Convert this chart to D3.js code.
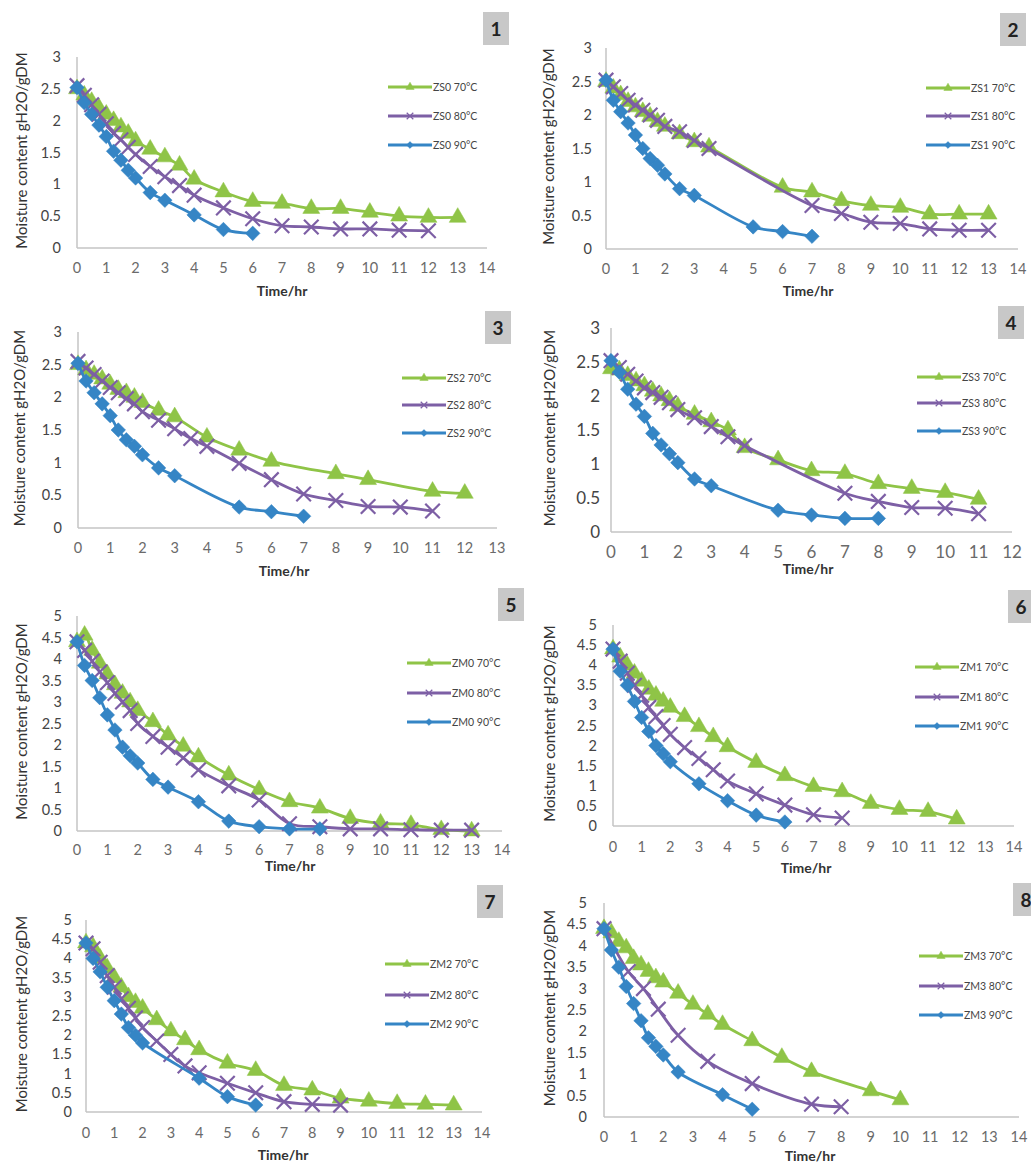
<!DOCTYPE html>
<html>
<head>
<meta charset="utf-8">
<script src="https://cdn.jsdelivr.net/npm/d3@7"></script>
<style>
  body { margin: 0; background: #fff; }
  svg text { font-family: Lato, "Open Sans", sans-serif; }
</style>
</head>
<body>
<div id="chart"></div>
<script>
// ---- data: [time (hr), moisture (gH2O/gDM)] ----
const ZS0_70 = [[0,2.5],[0.25,2.4],[0.5,2.3],[0.75,2.2],[1,2.1],[1.25,2.0],[1.5,1.9],[1.75,1.8],[2,1.68],[2.5,1.55],[3,1.43],[3.5,1.3],[4,1.08],[5,0.88],[6,0.73],[7,0.7],[8,0.62],[9,0.62],[10,0.56],[11,0.5],[12,0.48],[13,0.48]];
const ZS0_80 = [[0,2.55],[0.25,2.4],[0.5,2.25],[0.75,2.1],[1,1.95],[1.25,1.8],[1.5,1.7],[1.75,1.58],[2,1.47],[2.5,1.28],[3,1.12],[3.5,0.98],[4,0.83],[5,0.63],[6,0.46],[7,0.35],[8,0.33],[9,0.3],[10,0.3],[11,0.28],[12,0.27]];
const ZS0_90 = [[0,2.52],[0.25,2.28],[0.5,2.1],[0.75,1.93],[1,1.75],[1.25,1.52],[1.5,1.38],[1.75,1.22],[2,1.1],[2.5,0.87],[3,0.75],[4,0.52],[5,0.29],[6,0.23]];

const ZS1_70 = [[0,2.5],[0.25,2.4],[0.5,2.3],[0.75,2.2],[1,2.12],[1.25,2.05],[1.5,1.98],[1.75,1.9],[2,1.83],[2.5,1.72],[3,1.6],[3.5,1.52],[6,0.92],[7,0.85],[8,0.72],[9,0.65],[10,0.62],[11,0.52],[12,0.52],[13,0.52]];
const ZS1_80 = [[0,2.52],[0.25,2.42],[0.5,2.32],[0.75,2.22],[1,2.15],[1.25,2.07],[1.5,2.0],[1.75,1.92],[2,1.83],[2.5,1.75],[3,1.62],[3.5,1.5],[7,0.65],[8,0.53],[9,0.4],[10,0.38],[11,0.3],[12,0.28],[13,0.28]];
const ZS1_90 = [[0,2.52],[0.25,2.22],[0.5,2.05],[0.75,1.88],[1,1.7],[1.25,1.5],[1.5,1.35],[1.75,1.25],[2,1.12],[2.5,0.9],[3,0.8],[5,0.33],[6,0.26],[7,0.19]];

const ZS2_70 = [[0,2.5],[0.25,2.42],[0.5,2.35],[0.75,2.28],[1,2.2],[1.25,2.12],[1.5,2.07],[1.75,2.0],[2,1.92],[2.5,1.8],[3,1.7],[4,1.39],[5,1.19],[6,1.02],[8,0.83],[9,0.74],[11,0.56],[12,0.53]];
const ZS2_80 = [[0,2.55],[0.25,2.45],[0.5,2.35],[0.75,2.25],[1,2.15],[1.25,2.07],[1.5,1.98],[1.75,1.9],[2,1.78],[2.5,1.65],[3,1.52],[3.5,1.37],[4,1.25],[5,0.99],[6,0.74],[7,0.52],[8,0.42],[9,0.33],[10,0.32],[11,0.26]];
const ZS2_90 = [[0,2.52],[0.25,2.25],[0.5,2.07],[0.75,1.9],[1,1.72],[1.25,1.5],[1.5,1.35],[1.75,1.25],[2,1.12],[2.5,0.92],[3,0.8],[5,0.32],[6,0.25],[7,0.18]];

const ZS3_70 = [[0,2.4],[0.25,2.38],[0.5,2.3],[0.75,2.22],[1,2.15],[1.25,2.07],[1.5,2.0],[1.75,1.93],[2,1.85],[2.5,1.73],[3,1.62],[3.5,1.5],[4,1.24],[5,1.06],[6,0.9],[7,0.86],[8,0.71],[9,0.64],[10,0.58],[11,0.48]];
const ZS3_80 = [[0,2.52],[0.25,2.42],[0.5,2.32],[0.75,2.22],[1,2.12],[1.25,2.05],[1.5,1.98],[1.75,1.9],[2,1.8],[2.5,1.68],[3,1.55],[3.5,1.4],[4,1.27],[7,0.57],[8,0.45],[9,0.36],[10,0.35],[11,0.27]];
const ZS3_90 = [[0,2.52],[0.25,2.35],[0.5,2.1],[0.75,1.88],[1,1.7],[1.25,1.45],[1.5,1.28],[1.75,1.15],[2,1.02],[2.5,0.78],[3,0.68],[5,0.32],[6,0.25],[7,0.2],[8,0.2]];

const ZM0_70 = [[0,4.4],[0.25,4.55],[0.5,4.2],[0.75,3.9],[1,3.65],[1.25,3.4],[1.5,3.2],[1.75,3.0],[2,2.8],[2.5,2.54],[3,2.23],[3.5,1.97],[4,1.72],[5,1.3],[6,0.96],[7,0.68],[8,0.53],[9,0.29],[10,0.18],[11,0.15],[12,0.03],[13,0.0]];
const ZM0_80 = [[0,4.4],[0.25,4.2],[0.5,3.95],[0.75,3.7],[1,3.45],[1.25,3.2],[1.5,3.0],[1.75,2.8],[2,2.5],[2.5,2.2],[3,1.95],[3.5,1.7],[4,1.42],[5,1.05],[6,0.72],[7,0.17],[8,0.1],[9,0.05],[10,0.05],[11,0.03],[12,0.02],[13,0.02]];
const ZM0_90 = [[0,4.4],[0.25,3.85],[0.5,3.5],[0.75,3.1],[1,2.7],[1.25,2.35],[1.5,1.95],[1.75,1.75],[2,1.58],[2.5,1.2],[3,1.02],[4,0.68],[5,0.23],[6,0.1],[7,0.05],[8,0.05]];

const ZM1_70 = [[0,4.4],[0.25,4.2],[0.5,4.0],[0.75,3.8],[1,3.6],[1.25,3.4],[1.5,3.25],[1.75,3.1],[2,2.95],[2.5,2.72],[3,2.47],[3.5,2.22],[4,1.97],[5,1.58],[6,1.25],[7,0.98],[8,0.85],[9,0.56],[10,0.41],[11,0.36],[12,0.17]];
const ZM1_80 = [[0,4.4],[0.25,4.1],[0.5,3.8],[0.75,3.5],[1,3.25],[1.25,2.95],[1.5,2.72],[1.75,2.5],[2,2.28],[2.5,1.95],[3,1.68],[3.5,1.4],[4,1.12],[5,0.8],[6,0.52],[7,0.28],[8,0.2]];
const ZM1_90 = [[0,4.4],[0.25,3.85],[0.5,3.5],[0.75,3.1],[1,2.7],[1.25,2.35],[1.5,2.0],[1.75,1.8],[2,1.6],[3,1.05],[4,0.63],[5,0.27],[6,0.1]];

const ZM2_70 = [[0,4.4],[0.25,4.3],[0.5,4.0],[0.75,3.75],[1,3.5],[1.25,3.25],[1.5,3.0],[1.75,2.85],[2,2.7],[2.5,2.4],[3,2.11],[3.5,1.88],[4,1.62],[5,1.27],[6,1.08],[7,0.69],[8,0.57],[9,0.36],[10,0.28],[11,0.22],[12,0.2],[13,0.18]];
const ZM2_80 = [[0,4.4],[0.25,4.25],[0.5,3.9],[0.75,3.55],[1,3.25],[1.25,2.95],[1.5,2.7],[1.75,2.45],[2,2.2],[2.5,1.85],[3,1.5],[3.5,1.2],[4,1.02],[5,0.75],[6,0.5],[7,0.27],[8,0.2],[9,0.18]];
const ZM2_90 = [[0,4.4],[0.25,4.0],[0.5,3.65],[0.75,3.25],[1,2.9],[1.25,2.55],[1.5,2.2],[1.75,2.0],[2,1.8],[4,0.88],[5,0.4],[6,0.18]];

const ZM3_70 = [[0,4.4],[0.25,4.3],[0.5,4.1],[0.75,3.95],[1,3.7],[1.25,3.55],[1.5,3.4],[1.75,3.25],[2,3.15],[2.5,2.89],[3,2.63],[3.5,2.4],[4,2.16],[5,1.78],[6,1.39],[7,1.06],[9,0.61],[10,0.4]];
const ZM3_80 = [[0,4.4],[0.82,3.4],[1.33,3.0],[1.83,2.52],[2.5,1.91],[3.5,1.3],[5,0.78],[7,0.3],[8,0.24]];
const ZM3_90 = [[0,4.4],[0.25,3.9],[0.5,3.5],[0.75,3.05],[1,2.65],[1.25,2.25],[1.5,1.85],[1.75,1.65],[2,1.45],[2.5,1.05],[4,0.52],[5,0.18]];

const panelNames = ["ZS0", "ZS1", "ZS2", "ZS3", "ZM0", "ZM1", "ZM2", "ZM3"];
const panelSeries = [
  [ZS0_70, ZS0_80, ZS0_90], [ZS1_70, ZS1_80, ZS1_90],
  [ZS2_70, ZS2_80, ZS2_90], [ZS3_70, ZS3_80, ZS3_90],
  [ZM0_70, ZM0_80, ZM0_90], [ZM1_70, ZM1_80, ZM1_90],
  [ZM2_70, ZM2_80, ZM2_90], [ZM3_70, ZM3_80, ZM3_90]
];
const panelXMax = [14, 14, 13, 12, 14, 14, 14, 14];
const panelYMax = [3, 3, 3, 3, 5, 5, 5, 5];
const temps = ["70°C", "80°C", "90°C"];

// ---- layout (pixels) ----
// x0/x1: pixel of time 0 / xmax; yb/yt: pixel of 0 / ymax
const layout = [
  {x0: 77,  x1: 487,  yb: 248,  yt: 57,  tickY: 268,  yLabR: 61,  titleX: 282, titleY: 291, yTitleX: 22,  lgX: 388, lgY: [87, 116, 145],   badge: [483, 12], fs: 14.5},
  {x0: 606, x1: 1018, yb: 249,  yt: 48,  tickY: 269,  yLabR: 592, titleX: 808, titleY: 291, yTitleX: 549, lgX: 926, lgY: [88, 116, 145],   badge: [1000, 13], fs: 14.5},
  {x0: 78,  x1: 497,  yb: 528,  yt: 332, tickY: 548,  yLabR: 62,  titleX: 284, titleY: 571, yTitleX: 20,  lgX: 402, lgY: [378, 405, 433],  badge: [485, 311], fs: 14.5},
  {x0: 611, x1: 1012, yb: 532,  yt: 328, tickY: 552,  yLabR: 600, titleX: 808, titleY: 569, yTitleX: 550, lgX: 917, lgY: [377, 403, 431],  badge: [998, 306], fs: 17},
  {x0: 77,  x1: 502,  yb: 831,  yt: 616, tickY: 850,  yLabR: 62,  titleX: 290, titleY: 866, yTitleX: 22,  lgX: 407, lgY: [663, 693, 722],  badge: [498, 588], fs: 14.5},
  {x0: 613, x1: 1014, yb: 826,  yt: 625, tickY: 847,  yLabR: 597, titleX: 806, titleY: 868, yTitleX: 550, lgX: 915, lgY: [667, 697, 726],  badge: [1008, 590], fs: 14.5},
  {x0: 86,  x1: 482,  yb: 1112, yt: 920, tickY: 1133, yLabR: 72,  titleX: 283, titleY: 1155, yTitleX: 22, lgX: 385, lgY: [964, 995, 1024], badge: [477, 885], fs: 14.5},
  {x0: 604, x1: 1019, yb: 1117, yt: 903, tickY: 1137, yLabR: 587, titleX: 810, titleY: 1156, yTitleX: 550, lgX: 919, lgY: [956, 986, 1015], badge: [1013, 883], fs: 14.5}
];

const colors = ["#8fc447", "#7d5fa5", "#3585c5"];
const shapes = [d3.symbolTriangle, d3.symbolTimes, d3.symbolDiamond2];
const markerSize = [125, 140, 135];

const svg = d3.select("#chart").append("svg")
  .attr("width", 1031).attr("height", 1166);

function drawPanel(i) {
  const L = layout[i];
  const x = d3.scaleLinear().domain([0, panelXMax[i]]).range([L.x0, L.x1]);
  const y = d3.scaleLinear().domain([0, panelYMax[i]]).range([L.yb, L.yt]);
  const g = svg.append("g").attr("class", "panel");

  // axes lines
  g.append("line").attr("x1", L.x0).attr("x2", L.x1).attr("y1", L.yb).attr("y2", L.yb)
    .attr("stroke", "#c4c4c4").attr("stroke-width", 1.5);
  g.append("line").attr("x1", L.x0).attr("x2", L.x0).attr("y1", L.yb).attr("y2", L.yt)
    .attr("stroke", "#c4c4c4").attr("stroke-width", 1.5);

  // x tick labels
  g.selectAll(".xt").data(d3.range(0, panelXMax[i] + 1)).enter().append("text")
    .attr("x", d => x(d)).attr("y", L.tickY).attr("dy", "0.35em")
    .attr("text-anchor", "middle").attr("font-size", L.fs).attr("fill", "#6a6a6a")
    .text(d => d);

  // y tick labels
  g.selectAll(".yt").data(d3.range(0, panelYMax[i] + 0.01, 0.5)).enter().append("text")
    .attr("x", L.yLabR).attr("y", d => y(d)).attr("dy", "0.35em")
    .attr("text-anchor", "end").attr("font-size", L.fs).attr("fill", "#444")
    .text(d => d3.format("~g")(d));

  // axis titles
  g.append("text").attr("x", L.titleX).attr("y", L.titleY).attr("dy", "0.35em")
    .attr("text-anchor", "middle").attr("font-size", 14).attr("font-weight", "bold")
    .attr("fill", "#333").text("Time/hr");
  g.append("text")
    .attr("transform", `translate(${L.yTitleX},${(L.yb + L.yt) / 2 - 2}) rotate(-90)`)
    .attr("dy", "0.35em").attr("text-anchor", "middle").attr("font-size", 15)
    .attr("fill", "#333").text("Moisture content gH2O/gDM");

  // series
  const line = d3.line().x(d => x(d[0])).y(d => y(d[1])).curve(d3.curveCatmullRom.alpha(0.5));
  panelSeries[i].forEach((s, k) => {
    g.append("path").datum(s).attr("d", line)
      .attr("fill", "none").attr("stroke", colors[k]).attr("stroke-width", 2.8);
    const sym = d3.symbol().type(shapes[k]).size(markerSize[k]);
    g.selectAll(".m" + k).data(s).enter().append("path")
      .attr("transform", d => `translate(${x(d[0])},${y(d[1])})`)
      .attr("d", sym)
      .attr("fill", k === 1 ? "none" : colors[k])
      .attr("stroke", colors[k]).attr("stroke-width", k === 1 ? 2.2 : 0.5);
  });

  // legend
  temps.forEach((t, k) => {
    const ly = L.lgY[k];
    g.append("line").attr("x1", L.lgX).attr("x2", L.lgX + 44).attr("y1", ly).attr("y2", ly)
      .attr("stroke", colors[k]).attr("stroke-width", 2.8);
    g.append("path").attr("transform", `translate(${L.lgX + 22},${ly})`)
      .attr("d", d3.symbol().type(shapes[k]).size(30))
      .attr("fill", k === 1 ? "none" : colors[k])
      .attr("stroke", colors[k]).attr("stroke-width", k === 1 ? 1.2 : 0.5);
    g.append("text").attr("x", L.lgX + 45).attr("y", ly).attr("dy", "0.35em")
      .attr("font-size", 10.5).attr("fill", "#444")
      .text(panelNames[i] + " " + t);
  });

  // number badge
  g.append("rect").attr("x", L.badge[0]).attr("y", L.badge[1])
    .attr("width", 26).attr("height", 33).attr("fill", "#c8c8c8");
  g.append("text").attr("x", L.badge[0] + 13).attr("y", L.badge[1] + 17).attr("dy", "0.35em")
    .attr("text-anchor", "middle").attr("font-size", 19).attr("font-weight", "bold")
    .attr("fill", "#222").text(i + 1);
}

d3.range(8).forEach(drawPanel);
</script>
</body>
</html>
